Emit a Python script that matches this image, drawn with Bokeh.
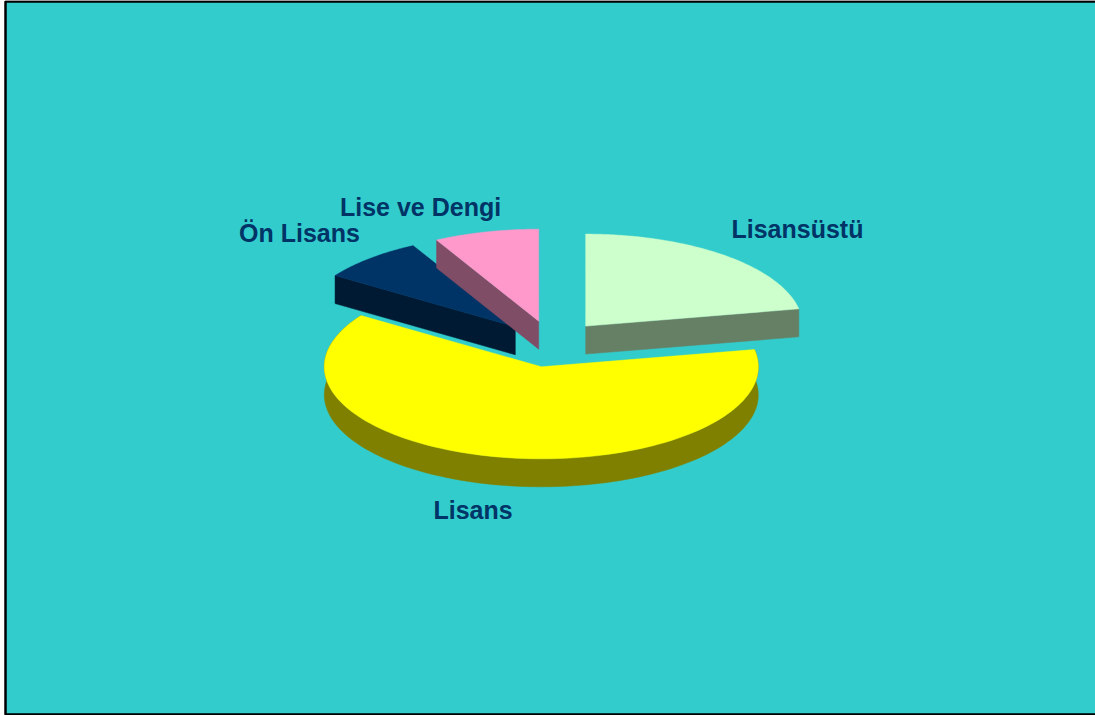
import numpy as np
from bokeh.plotting import figure
from bokeh.core.properties import value
from bokeh.embed import file_html
from bokeh.resources import INLINE

categories = ["Lisansüstü", "Lisans", "Ön Lisans", "Lise ve Dengi"]
shares = [22.0, 62.4, 7.8, 7.8]

top_colors = ["#CCFFCC", "#FFFF00", "#003366", "#FF99CC"]
side_colors = ["#668066", "#808000", "#001A33", "#804D66"]
apex = [(585.2, 325.6), (540.8, 366.3), (514.8, 326.3), (538.2, 320.7)]
label_pos = [(731, 238), (433, 519), (238.5, 242), (339.5, 216)]
draw_order = [1, 2, 3, 0]
RX, RY, DEPTH = 217, 92, 28
W, H = 1095, 715

p = figure(width=W, height=H, x_range=(0, W), y_range=(H, 0), output_backend="svg",
           toolbar_location=None, min_border=0, margin=(0, 0, 0, 0))
p.axis.visible = False
p.grid.visible = False
p.outline_line_color = None
p.background_fill_color = "white"
p.border_fill_color = "white"

p.quad(left=[5], right=[W + 5], top=[1], bottom=[714], fill_color="#33CCCC",
       line_color="black", line_width=2.5)

edges = np.radians(np.cumsum([0] + shares) * 3.6)


def arc(i):
    a = np.linspace(edges[i], edges[i + 1], 120)
    cx, cy = apex[i]
    return cx + RX * np.sin(a), cy - RY * np.cos(a)


for i in draw_order:
    cx, cy = apex[i]
    ax, ay = arc(i)
    # visible cut faces
    if categories[i] != "Lisans":
        if categories[i] == "Lisansüstü":
            ex, ey = ax[-1], ay[-1]
        else:
            ex, ey = ax[0], ay[0]
        p.patch([cx, ex, ex, cx], [cy, ey, ey + DEPTH, cy + DEPTH],
                fill_color=side_colors[i], line_color=side_colors[i], line_width=0.5)
    else:
        # outer rim, front part
        p.patch(np.r_[ax, ax[::-1]], np.r_[ay, ay[::-1] + DEPTH],
                fill_color=side_colors[i], line_color=side_colors[i], line_width=0.5)
    p.patch(np.r_[cx, ax], np.r_[cy, ay], fill_color=top_colors[i],
            line_color=top_colors[i], line_width=0.5)

for name, (lx, ly) in zip(categories, label_pos):
    p.text([lx], [ly - 10], text=[name], text_font=value("Liberation Sans"), text_font_style="bold",
           text_font_size="25px", text_color="#003366", text_align="left", text_baseline="alphabetic")

open("out.html", "w").write(file_html(p, INLINE))
